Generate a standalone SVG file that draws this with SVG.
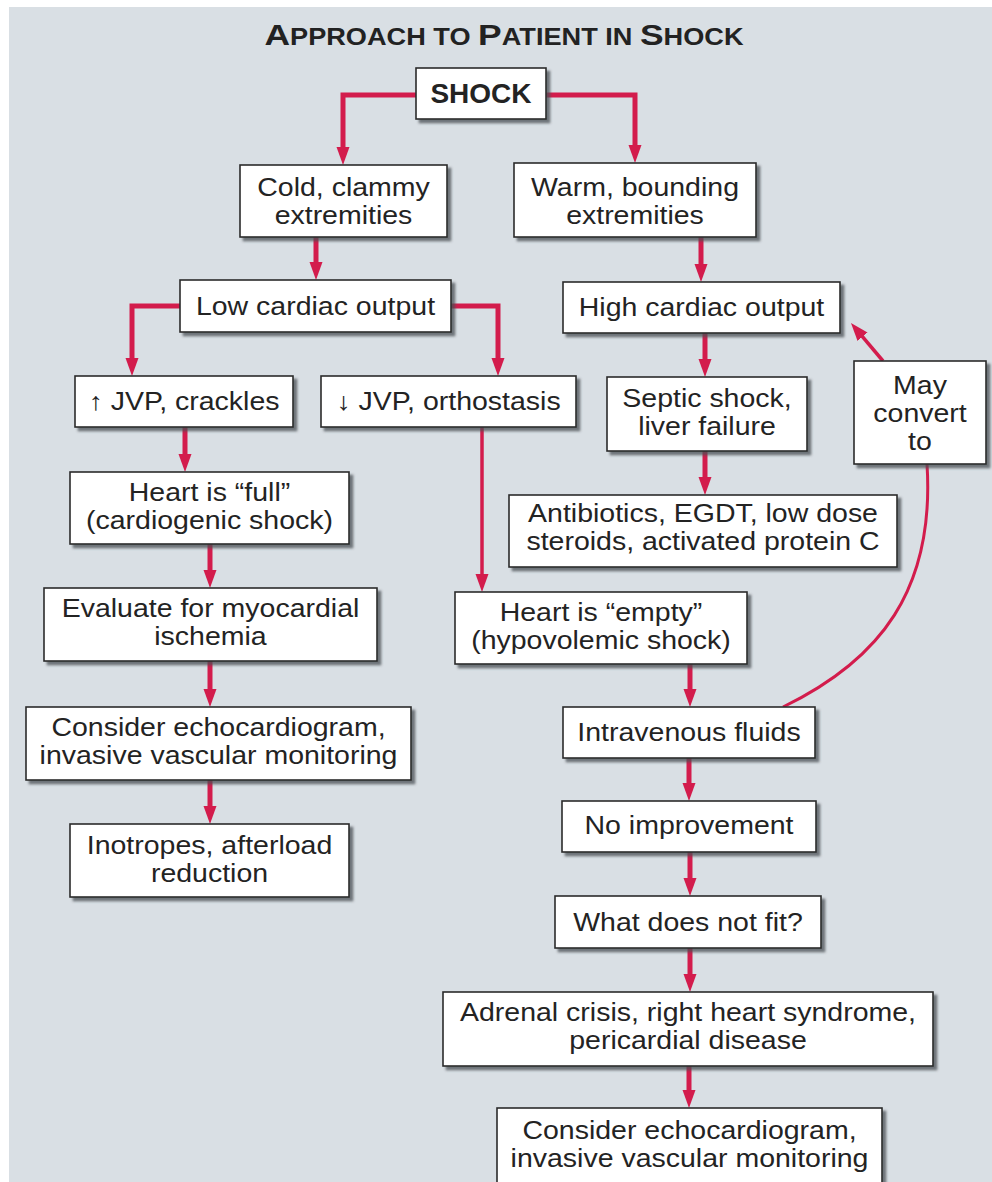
<svg xmlns="http://www.w3.org/2000/svg" width="992" height="1182" viewBox="0 0 992 1182">
<defs>
<style>
.box{fill:#ffffff;stroke:#2b2b2b;stroke-width:1.6;filter:url(#sh)}
.t{font-family:"Liberation Sans",Arial,Helvetica,sans-serif;font-size:25px;fill:#232323;text-anchor:middle}
.b{font-weight:bold}
.c{fill:none;stroke:#d31c4c;stroke-width:5;stroke-linejoin:miter}
.h{stroke-width:6}
.cm{marker-end:url(#ah)}
.thin{stroke-width:3.5}
.curve{stroke-width:3}
</style>
<filter id="sh" x="-10%" y="-10%" width="130%" height="140%">
<feDropShadow dx="3.5" dy="3.5" stdDeviation="1.2" flood-color="#4a4f55" flood-opacity="0.75"/>
</filter>
<marker id="ah" markerUnits="userSpaceOnUse" markerWidth="20" markerHeight="14" refX="8" refY="6.5" orient="auto">
<path d="M0,0 L18,6.5 L0,13 z" fill="#d31c4c"/>
</marker>
</defs>
<rect x="0" y="0" width="992" height="1182" fill="#ffffff"/>
<rect x="9" y="7" width="983" height="1175" fill="#d9dfe4"/>
<text x="504" y="45" font-family="'Liberation Sans',Arial,sans-serif" font-weight="bold" fill="#222" text-anchor="middle" textLength="479" lengthAdjust="spacingAndGlyphs"><tspan font-size="30">A</tspan><tspan font-size="23">PPROACH TO </tspan><tspan font-size="30">P</tspan><tspan font-size="23">ATIENT IN </tspan><tspan font-size="30">S</tspan><tspan font-size="23">HOCK</tspan></text>
<g id="connectors">
<path class="c cm" d="M416,95 H343 V155"/>
<path class="c cm" d="M546,95 H635 V153"/>
<path class="c cm" d="M316,237 V270"/>
<path class="c cm" d="M180,306 H132 V366"/>
<path class="c cm" d="M451,306 H498 V366"/>
<path class="c cm" d="M185,427 V462"/>
<path class="c cm" d="M210,544 V578"/>
<path class="c cm" d="M210,661 V697"/>
<path class="c cm" d="M210,780 V814"/>
<path class="c cm thin" d="M482,427 V582"/>
<path class="c cm" d="M701,237 V272"/>
<path class="c cm" d="M705,333 V367"/>
<path class="c cm" d="M705,451 V485"/>
<path class="c cm thin" d="M883,361 L857.4,330.6"/>
<path class="c curve" d="M783,707 C880,660 935,590 927,464"/>
<path class="c cm" d="M690,664 V697"/>
<path class="c cm" d="M689,758 V791"/>
<path class="c cm" d="M690,852 V886"/>
<path class="c cm" d="M690,948 V982"/>
<path class="c cm" d="M689,1066 V1098"/>
</g>
<g id="n-shock"><rect class="box" x="416" y="68" width="130" height="51"/><text class="t b" font-size="28" x="481" y="103" style="font-size:28px">SHOCK</text></g>
<g id="n-cold"><rect class="box" x="240" y="165" width="207" height="72"/><text class="t" transform="translate(343.5,196) scale(1.14,1)">Cold, clammy</text><text class="t" transform="translate(343.5,224) scale(1.14,1)">extremities</text></g>
<g id="n-warm"><rect class="box" x="514" y="163" width="242" height="74"/><text class="t" transform="translate(635,196) scale(1.14,1)">Warm, bounding</text><text class="t" transform="translate(635,224) scale(1.14,1)">extremities</text></g>
<g id="n-low"><rect class="box" x="180" y="280" width="271" height="52"/><text class="t" transform="translate(315.5,315) scale(1.14,1)">Low cardiac output</text></g>
<g id="n-high"><rect class="box" x="563" y="282" width="277" height="51"/><text class="t" transform="translate(701.5,316) scale(1.14,1)">High cardiac output</text></g>
<g id="n-jvpup"><rect class="box" x="75" y="376" width="218" height="51"/><text class="t" transform="translate(184,410) scale(1.14,1)">↑ JVP, crackles</text></g>
<g id="n-jvpdown"><rect class="box" x="321" y="376" width="255" height="51"/><text class="t" transform="translate(448.5,410) scale(1.14,1)">↓ JVP, orthostasis</text></g>
<g id="n-septic"><rect class="box" x="607" y="377" width="200" height="74"/><text class="t" transform="translate(707,407) scale(1.14,1)">Septic shock,</text><text class="t" transform="translate(707,435) scale(1.14,1)">liver failure</text></g>
<g id="n-may"><rect class="box" x="854" y="361" width="132" height="103"/><text class="t" transform="translate(920,394) scale(1.14,1)">May</text><text class="t" transform="translate(920,422) scale(1.14,1)">convert</text><text class="t" transform="translate(920,450) scale(1.14,1)">to</text></g>
<g id="n-heartfull"><rect class="box" x="70" y="472" width="279" height="72"/><text class="t" transform="translate(209.5,501) scale(1.14,1)">Heart is “full”</text><text class="t" transform="translate(209.5,529) scale(1.14,1)">(cardiogenic shock)</text></g>
<g id="n-antibiotics"><rect class="box" x="509" y="495" width="388" height="72"/><text class="t" transform="translate(703,522) scale(1.14,1)">Antibiotics, EGDT, low dose</text><text class="t" transform="translate(703,550) scale(1.14,1)">steroids, activated protein C</text></g>
<g id="n-evaluate"><rect class="box" x="44" y="588" width="333" height="73"/><text class="t" transform="translate(210.5,617) scale(1.14,1)">Evaluate for myocardial</text><text class="t" transform="translate(210.5,645) scale(1.14,1)">ischemia</text></g>
<g id="n-heartempty"><rect class="box" x="455" y="592" width="292" height="72"/><text class="t" transform="translate(601,621) scale(1.14,1)">Heart is “empty”</text><text class="t" transform="translate(601,649) scale(1.14,1)">(hypovolemic shock)</text></g>
<g id="n-consider1"><rect class="box" x="26" y="707" width="385" height="73"/><text class="t" transform="translate(218.5,736) scale(1.14,1)">Consider echocardiogram,</text><text class="t" transform="translate(218.5,764) scale(1.14,1)">invasive vascular monitoring</text></g>
<g id="n-iv"><rect class="box" x="563" y="707" width="252" height="51"/><text class="t" transform="translate(689,741) scale(1.14,1)">Intravenous fluids</text></g>
<g id="n-inotropes"><rect class="box" x="70" y="824" width="279" height="73"/><text class="t" transform="translate(209.5,854) scale(1.14,1)">Inotropes, afterload</text><text class="t" transform="translate(209.5,882) scale(1.14,1)">reduction</text></g>
<g id="n-noimp"><rect class="box" x="562" y="801" width="254" height="51"/><text class="t" transform="translate(689,834) scale(1.14,1)">No improvement</text></g>
<g id="n-what"><rect class="box" x="555" y="896" width="266" height="52"/><text class="t" transform="translate(688,931) scale(1.14,1)">What does not fit?</text></g>
<g id="n-adrenal"><rect class="box" x="443" y="992" width="490" height="74"/><text class="t" transform="translate(688,1021) scale(1.14,1)">Adrenal crisis, right heart syndrome,</text><text class="t" transform="translate(688,1049) scale(1.14,1)">pericardial disease</text></g>
<g id="n-consider2"><rect class="box" x="497" y="1108" width="385" height="82"/><text class="t" transform="translate(689.5,1139) scale(1.14,1)">Consider echocardiogram,</text><text class="t" transform="translate(689.5,1167) scale(1.14,1)">invasive vascular monitoring</text></g>
</svg>
